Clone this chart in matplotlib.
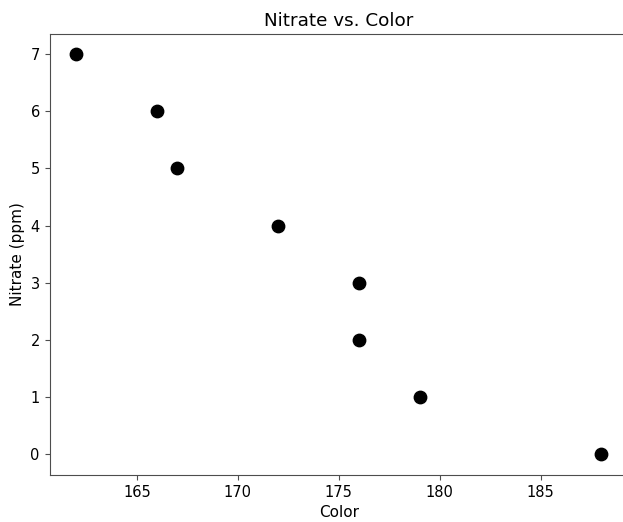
import matplotlib.pyplot as plt

plt.rcParams['font.size'] = 11

# color reading vs nitrate level
color = [162, 166, 167, 172, 176, 176, 179, 188]
nitrate = [7, 6, 5, 4, 3, 2, 1, 0]

fig = plt.figure(figsize=(6.23, 5.22), dpi=100)
ax = fig.add_axes([50 / 623, 47.5 / 522, 577.5 / 623, 440.5 / 522])
ax.scatter(color, nitrate, s=80, color='black', zorder=3)
ax.set_title('Nitrate vs. Color')
ax.set_xlabel('Color')
ax.set_ylabel('Nitrate (ppm)')
for sp in ax.spines.values():
    sp.set_color('0.3')
ax.tick_params(color='0.3', length=3.8, labelsize=10.5)
fig.savefig('out.png', dpi=100)
